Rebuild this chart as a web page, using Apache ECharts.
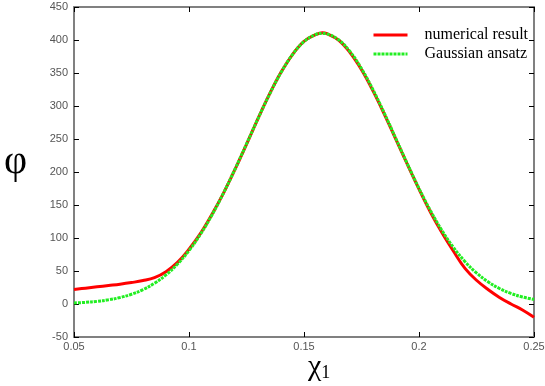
<!DOCTYPE html>
<html>
<head>
<meta charset="utf-8">
<script src="https://cdn.jsdelivr.net/npm/echarts@6/dist/echarts.min.js"></script>
<style>
  html, body { margin: 0; padding: 0; background: #fff; }
  #chart { width: 545px; height: 386px; }
</style>
</head>
<body>
<div id="chart"></div>
<script>
// values
const xs = [0.050, 0.055, 0.060, 0.065, 0.070, 0.075, 0.080, 0.085, 0.090, 0.095,
            0.100, 0.105, 0.110, 0.115, 0.120, 0.125, 0.130, 0.135, 0.140, 0.145,
            0.150, 0.155, 0.158, 0.160, 0.165, 0.170, 0.175, 0.180, 0.185, 0.190, 0.195,
            0.200, 0.205, 0.210, 0.215, 0.220, 0.225, 0.230, 0.235, 0.240, 0.245, 0.250]
const numerical = [22, 24, 26, 28, 30, 32.5, 35.5, 40, 49, 63,
                   83, 107, 136, 168, 204, 242, 281, 318, 351, 378,
                   398, 408, 411, 409.5, 400, 381, 355, 323, 287, 249, 211,
                   174, 139, 108, 80, 54, 36, 22, 10, 0, -9, -20]
const gaussian = [1.5, 2.5, 4, 6.3, 9.8, 14.8, 21.8, 31.4, 44.1, 60.5,
                  81, 105.8, 135, 168.1, 204.3, 242.5, 280.9, 317.7, 350.7, 377.9,
                  397.5, 408.2, 410, 409.2, 400.4, 382.5, 356.7, 324.6, 288.5, 250.2, 211.9,
                  175.1, 141.3, 111.3, 85.6, 64.2, 47.1, 33.7, 23.5, 16, 10.7, 6.9]
const xTicks = ['0.05', '0.1', '0.15', '0.2', '0.25']
const seriesNames = ['numerical result', 'Gaussian ansatz']

const chart = echarts.init(document.getElementById('chart'))
const lbl = { color: '#555', fontFamily: 'Liberation Sans', fontSize: 11 }
const axLine = { show: true, onZero: false, lineStyle: { color: '#808080', width: 2 } }
const tick = { show: true, inside: true, length: 5, lineStyle: { color: '#000' } }

chart.setOption({
  animation: false,
  grid: { left: 74, right: 11, top: 7, bottom: 49, outerBoundsMode: 'none', containLabel: false },
  legend: {
    orient: 'vertical', left: 367, top: 22, itemWidth: 34, itemHeight: 10, itemGap: 3,
    itemStyle: { opacity: 0 },
    lineStyle: { width: 3 },
    textStyle: { fontFamily: 'Liberation Serif', fontSize: 16, color: '#000', padding: [0, 0, 0, 12] },
    data: seriesNames
  },
  graphic: [
    { type: 'text', left: 4, top: 142, style: { text: 'φ', font: '40px "Liberation Serif"', fill: '#000' } },
    { type: 'text', left: 308, top: 352, style: {
        text: '{a|χ}{b|1}',
        rich: {
          a: { font: '30px "Liberation Serif"', fill: '#000' },
          b: { font: '18px "Liberation Serif"', fill: '#000', padding: [12, 0, 0, 0] }
        }
      } }
  ],
  xAxis: [{
    type: 'value', min: 0.05, max: 0.25, interval: 0.05,
    axisLine: axLine, axisTick: tick, splitLine: { show: false },
    axisLabel: Object.assign({ margin: 4, formatter: v => xTicks[Math.round((v - 0.05) / 0.05)] }, lbl)
  }, {
    type: 'value', position: 'top', min: 0.05, max: 0.25, interval: 0.05,
    axisLine: axLine, axisTick: tick, axisLabel: { show: false }, splitLine: { show: false }
  }],
  yAxis: [{
    type: 'value', min: -50, max: 450, interval: 50,
    axisLine: axLine, axisTick: tick, splitLine: { show: false },
    axisLabel: Object.assign({ margin: 6 }, lbl)
  }, {
    type: 'value', position: 'right', min: -50, max: 450, interval: 50,
    axisLine: axLine, axisTick: tick, axisLabel: { show: false }, splitLine: { show: false }
  }],
  series: [{
    name: seriesNames[0], type: 'line', smooth: 0.4, symbol: 'none',
    data: xs.map((x, i) => [x, numerical[i]]),
    itemStyle: { color: '#ff0000' },
    lineStyle: { color: '#ff0000', width: 3 }
  }, {
    name: seriesNames[1], type: 'line', smooth: 0.4, symbol: 'none',
    data: xs.map((x, i) => [x, gaussian[i]]),
    itemStyle: { color: '#22ee22' },
    lineStyle: { color: '#22ee22', width: 3, type: [3, 1] }
  }]
})
</script>
</body>
</html>
